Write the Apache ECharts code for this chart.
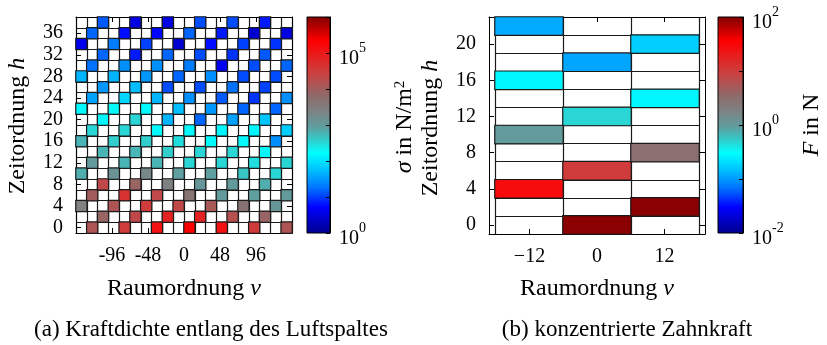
<!DOCTYPE html>
<html>
<head>
<meta charset="utf-8">
<script src="https://cdn.jsdelivr.net/npm/echarts@6.0.0/dist/echarts.min.js"></script>
<style>
html, body { margin: 0; padding: 0; background: #fff; }
#chart { width: 827px; height: 345px; }
</style>
</head>
<body>
<div id="chart"></div>
<script>
var _ = null;

// (a) log10 of sigma in N/m^2, rows h = 0,2,...,38 (bottom to top), 20 columns
var leftH = [0, 2, 4, 6, 8, 10, 12, 14, 16, 18, 20, 22, 24, 26, 28, 30, 32, 34, 36, 38];
var leftCols = ['c0','c1','c2','c3','c4','c5','c6','c7','c8','c9','c10','c11','c12','c13','c14','c15','c16','c17','c18','c19'];
var leftLogSigma = [
	[_,4.14,_,_,4.5,_,_,5.1,_,_,5.34,_,_,5.1,_,_,4.5,_,_,4.14],
	[_,_,3.9,_,_,4.32,_,_,4.86,_,_,4.86,_,_,4.2,_,_,3.9,_,_],
	[3.42,_,_,4.14,_,_,4.5,_,_,4.32,_,_,4.08,_,_,3.66,_,_,3.06,_],
	[_,4.02,_,_,4.62,_,_,4.32,_,_,3.66,_,_,3.0,_,_,2.94,_,_,3.0],
	[_,_,4.32,_,_,3.9,_,_,3.42,_,_,3.06,_,_,3.0,_,_,2.82,_,_],
	[2.82,_,_,3.12,_,_,3.3,_,_,2.94,_,_,2.94,_,_,2.64,_,_,2.52,_],
	[_,3.0,_,_,2.76,_,_,2.76,_,_,2.52,_,_,2.52,_,_,2.46,_,_,2.52],
	[_,_,2.76,_,_,2.76,_,_,2.58,_,_,2.52,_,_,2.52,_,_,2.28,_,_],
	[2.76,_,_,2.58,_,_,2.58,_,_,2.46,_,_,2.22,_,_,2.22,_,_,1.44,_],
	[_,2.52,_,_,2.52,_,_,2.22,_,_,2.22,_,_,2.16,_,_,2.16,_,_,1.86],
	[_,_,2.16,_,_,2.52,_,_,1.68,_,_,1.2,_,_,1.56,_,_,1.8,_,_],
	[2.22,_,_,2.22,_,_,2.22,_,_,1.74,_,_,1.5,_,_,1.2,_,_,1.2,_],
	[_,1.56,_,_,1.92,_,_,1.68,_,_,1.44,_,_,1.14,_,_,0.96,_,_,1.44],
	[_,_,1.5,_,_,1.74,_,_,1.08,_,_,1.08,_,_,1.26,_,_,1.02,_,_],
	[1.68,_,_,1.68,_,_,1.5,_,_,1.2,_,_,1.44,_,_,1.08,_,_,1.08,_],
	[_,1.26,_,_,1.44,_,_,1.44,_,_,1.32,_,_,0.66,_,_,1.08,_,_,1.2],
	[_,_,1.2,_,_,0.84,_,_,1.2,_,_,1.08,_,_,0.96,_,_,1.14,_,_],
	[0.6,_,_,1.32,_,_,1.02,_,_,0.42,_,_,0.78,_,_,1.02,_,_,0.96,_],
	[_,1.2,_,_,0.78,_,_,0.72,_,_,1.2,_,_,0.84,_,_,0.42,_,_,0.54],
	[_,_,1.14,_,_,0.54,_,_,0.54,_,_,1.08,_,_,1.08,_,_,0.84,_,_]
];
var leftXTicks = [-96, -48, 0, 48, 96];
var leftYTicks = [0, 4, 8, 12, 16, 20, 24, 28, 32, 36];
var leftBarLabels = [0, 5];

// (b) log10 of F in N, rows h = 0,2,...,22, columns nu = -12, 0, 12
var rightNu = [-12, 0, 12];
var rightH = [0, 2, 4, 6, 8, 10, 12, 14, 16, 18, 20, 22];
var rightLogF = [
	[_, 1.96, _],
	[_, _, 1.96],
	[1.44, _, _],
	[_, 1.0, _],
	[_, _, 0.48],
	[0.0, _, _],
	[_, -0.32, _],
	[_, _, -0.56],
	[-0.56, _, _],
	[_, -0.94, _],
	[_, _, -0.76],
	[-0.92, _, _]
];
var rightYTicks = [0, 4, 8, 12, 16, 20];
var rightBarLabels = [-2, 0, 2];

// colormap (blue - cyan - grey - red - dark red)
var cmapStops = [
	[0.00, [0, 0, 140]],
	[0.12, [0, 0, 255]],
	[0.21, [0, 115, 255]],
	[0.29, [0, 190, 255]],
	[0.37, [0, 255, 255]],
	[0.43, [50, 205, 205]],
	[0.49, [95, 158, 160]],
	[0.57, [128, 128, 128]],
	[0.63, [140, 108, 108]],
	[0.74, [204, 64, 64]],
	[0.887, [255, 0, 0]],
	[1.00, [128, 0, 0]]
];
function rgb(c) { return 'rgb(' + c.map(Math.round).join(',') + ')'; }
function cmap(t) {
	for (var i = 1; i < cmapStops.length; i++) {
		var a = cmapStops[i - 1], b = cmapStops[i];
		if (t <= b[0]) {
			var f = (t - a[0]) / (b[0] - a[0]);
			return rgb([0, 1, 2].map(function (k) { return a[1][k] + f * (b[1][k] - a[1][k]); }));
		}
	}
	return rgb(cmapStops[cmapStops.length - 1][1]);
}
var cmapColors = [];
for (var i = 0; i < 64; i++) cmapColors.push(cmap(i / 63));
var cmapGradient = {
	type: 'linear', x: 0, y: 1, x2: 0, y2: 0,
	colorStops: cmapStops.map(function (s) { return { offset: s[0], color: rgb(s[1]) }; })
};

function heatData(table) {
	var out = [];
	table.forEach(function (row, r) {
		row.forEach(function (v, c) {
			if (v !== null) out.push([c, r, v]);
		});
	});
	return out;
}

var FONT = 'Liberation Serif';
var lineBlack = { color: '#000', width: 1 };
var cellLine = '#1a1a1a';
// "10" sits low in a 32px line, the exponent is raised
var supRich = {
	b: { fontFamily: FONT, fontSize: 20, color: '#000', lineHeight: 32, verticalAlign: 'bottom' },
	s: { fontFamily: FONT, fontSize: 14, color: '#000', padding: [4, 0, 0, 0], verticalAlign: 'top' }
};
function powLabel(list) {
	return function (v) {
		var e = Math.round(Math.log10(v));
		return list.indexOf(e) >= 0 ? '{b|10}{s|' + e + '}' : '';
	};
}

function catAxis(gridIndex, data, pos) {
	return {
		type: 'category', gridIndex: gridIndex, data: data, position: pos,
		axisLine: { show: false }, axisTick: { show: false }, axisLabel: { show: false },
		splitLine: { show: true, interval: 0, lineStyle: { color: cellLine, width: 1.2 } }
	};
}
function frameAxis(gridIndex, pos, min, max, ticks, labels, fmt) {
	return {
		type: 'value', gridIndex: gridIndex, position: pos, min: min, max: max,
		axisLine: { show: true, onZero: false, lineStyle: lineBlack },
		axisTick: { show: true, inside: true, length: 5, lineStyle: lineBlack, customValues: ticks },
		axisLabel: labels ? { show: true, margin: 13, customValues: ticks, formatter: fmt, color: '#000', fontFamily: FONT, fontSize: 20 } : { show: false },
		splitLine: { show: false }
	};
}
function barAxis(gridIndex, min, max, labels) {
	return {
		type: 'log', logBase: 10, gridIndex: gridIndex, position: 'right', min: min, max: max,
		axisLine: { show: true, onZero: false, lineStyle: lineBlack },
		axisTick: { show: true, inside: true, length: 4, lineStyle: lineBlack },
		axisLabel: { show: true, margin: 9, formatter: powLabel(labels), rich: supRich },
		splitLine: { show: false }
	};
}
function hiddenX(g) { return { type: 'value', gridIndex: g, show: false, min: 0, max: 1 }; }

var titleRich = {
	i: { fontFamily: FONT, fontSize: 24, fontStyle: 'italic', color: '#000' },
	n: { fontFamily: FONT, fontSize: 24, color: '#000', lineHeight: 24, verticalAlign: 'bottom' },
	s: { fontFamily: FONT, fontSize: 15, color: '#000', lineHeight: 15, padding: [0, 0, 12, 0], verticalAlign: 'top' }
};
function rotText(x, y, text, size) {
	return {
		type: 'text', x: x, y: y, rotation: Math.PI / 2,
		style: { text: text, font: size + 'px "' + FONT + '"', fill: '#000', align: 'center', verticalAlign: 'middle', rich: titleRich }
	};
}
function flatText(x, y, text, size) {
	return {
		type: 'text', x: x, y: y,
		style: { text: text, font: size + 'px "' + FONT + '"', fill: '#000', align: 'center', verticalAlign: 'middle', rich: titleRich }
	};
}

var myChart = echarts.init(document.getElementById('chart'));
var option = {
	backgroundColor: '#fff',
	animation: false,
	grid: [
		{ left: 76, top: 17, width: 216, height: 216, outerBoundsMode: 'none' },
		{ left: 307, top: 17, width: 23, height: 216, show: true, backgroundColor: cmapGradient, borderColor: '#000', borderWidth: 1, outerBoundsMode: 'none' },
		{ left: 495, top: 17, width: 204, height: 217, outerBoundsMode: 'none' },
		{ left: 489, top: 17, width: 216, height: 217, outerBoundsMode: 'none' },
		{ left: 718, top: 17, width: 25, height: 216, show: true, backgroundColor: cmapGradient, borderColor: '#000', borderWidth: 1, outerBoundsMode: 'none' }
	],
	xAxis: [
		catAxis(0, leftCols, 'bottom'),
		frameAxis(0, 'bottom', -144, 144, leftXTicks, true, function (v) { return String(v); }),
		frameAxis(0, 'top', -144, 144, leftXTicks, false),
		hiddenX(1),
		catAxis(2, rightNu.map(String), 'bottom'),
		frameAxis(3, 'bottom', -19.2, 19.2, rightNu, true, function (v) { return v < 0 ? '\u2212' + Math.abs(v) : String(v); }),
		frameAxis(3, 'top', -19.2, 19.2, rightNu, false),
		hiddenX(4)
	],
	yAxis: [
		catAxis(0, leftH.map(String), 'left'),
		frameAxis(0, 'left', -1, 39, leftYTicks, true, function (v) { return String(v); }),
		frameAxis(0, 'right', -1, 39, leftYTicks, false),
		barAxis(1, 1, 1e6, leftBarLabels),
		catAxis(2, rightH.map(String), 'left'),
		frameAxis(3, 'left', -1, 23, rightYTicks, true, function (v) { return String(v); }),
		frameAxis(3, 'right', -1, 23, rightYTicks, false),
		barAxis(4, 1e-2, 1e2, rightBarLabels)
	],
	visualMap: [
		{ type: 'continuous', show: false, seriesIndex: 0, min: 0, max: 6, inRange: { color: cmapColors } },
		{ type: 'continuous', show: false, seriesIndex: 1, min: -2, max: 2, inRange: { color: cmapColors } }
	],
	series: [
		{
			type: 'heatmap', xAxisIndex: 0, yAxisIndex: 0,
			data: heatData(leftLogSigma),
			itemStyle: { borderColor: cellLine, borderWidth: 1.2 }
		},
		{
			type: 'heatmap', xAxisIndex: 4, yAxisIndex: 4,
			data: heatData(rightLogF),
			itemStyle: { borderColor: cellLine, borderWidth: 1.2 }
		}
	],
	graphic: [
		rotText(18, 126, 'Zeitordnung {i|h}', 24),
		flatText(184, 289, 'Raumordnung {i|\u03bd}', 24),
		rotText(405, 127, '{i|\u03c3} in {n|N/m}{s|2}', 24),
		rotText(431, 128, 'Zeitordnung {i|h}', 24),
		flatText(597, 289, 'Raumordnung {i|\u03bd}', 24),
		rotText(812, 125, '{i|F} in N', 24),
		flatText(211, 330, '(a) Kraftdichte entlang des Luftspaltes', 23),
		flatText(627, 330, '(b) konzentrierte Zahnkraft', 23)
	]
};
myChart.setOption(option);
</script>
</body>
</html>
